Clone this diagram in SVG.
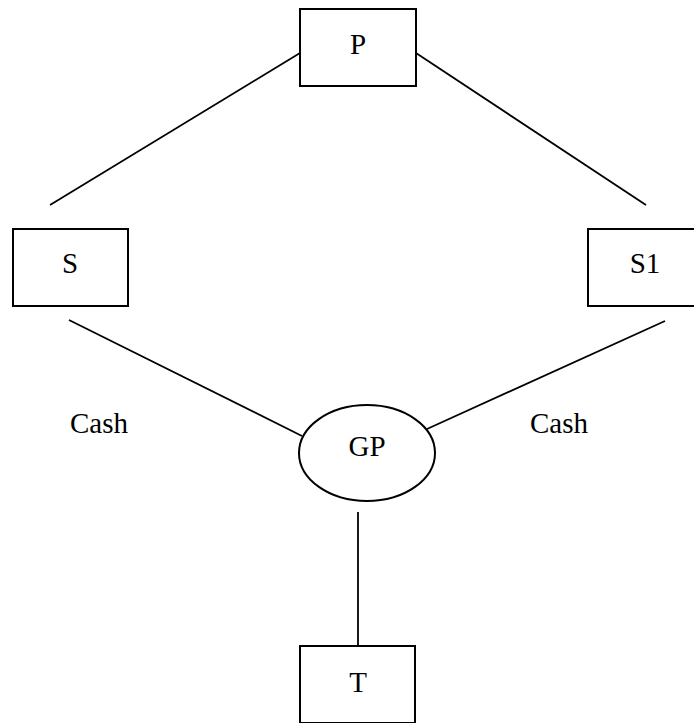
<svg xmlns="http://www.w3.org/2000/svg" width="694" height="723" viewBox="0 0 694 723">
  <style>
    .box { fill: #fff; stroke: #000; stroke-width: 2; }
    .link { stroke: #000; stroke-width: 1.8; fill: none; }
    .lbl { font-family: "Liberation Serif", "Times New Roman", serif; font-size: 29px; fill: #000; text-anchor: middle; }
  </style>
  <rect width="694" height="723" fill="#fff"/>
  <g id="connectors">
    <line class="link" x1="300" y1="53" x2="50" y2="205"/>
    <line class="link" x1="416" y1="53" x2="646" y2="205"/>
    <line class="link" x1="69" y1="320" x2="302" y2="436"/>
    <line class="link" x1="665" y1="321" x2="427" y2="429"/>
    <line class="link" x1="358" y1="512" x2="358" y2="646"/>
  </g>
  <g id="node-P">
    <rect class="box" x="300" y="9" width="116" height="77"/>
    <text class="lbl" x="358" y="54">P</text>
  </g>
  <g id="node-S">
    <rect class="box" x="13" y="229" width="115" height="77"/>
    <text class="lbl" x="70" y="273">S</text>
  </g>
  <g id="node-S1">
    <rect class="box" x="588" y="229" width="110" height="77"/>
    <text class="lbl" x="645" y="273">S1</text>
  </g>
  <g id="node-GP">
    <ellipse class="box" cx="367" cy="453" rx="68" ry="48"/>
    <text class="lbl" x="367" y="456">GP</text>
  </g>
  <g id="node-T">
    <rect class="box" x="300" y="646" width="115" height="77"/>
    <text class="lbl" x="358" y="692">T</text>
  </g>
  <g id="labels">
    <text class="lbl" x="99" y="433">Cash</text>
    <text class="lbl" x="559" y="433">Cash</text>
  </g>
</svg>
